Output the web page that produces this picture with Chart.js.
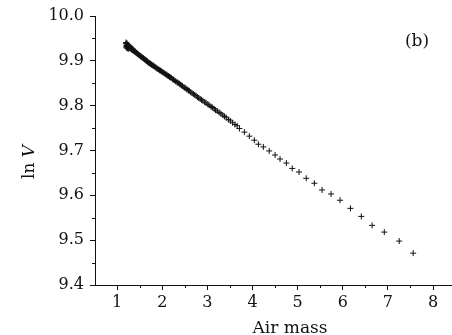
<!DOCTYPE html>
<html>
<head>
<meta charset="utf-8">
<script src="https://cdn.jsdelivr.net/npm/chart.js@4"></script>
<style>
  html, body { margin: 0; padding: 0; background: #fff; }
  canvas { display: block; }
</style>
</head>
<body>
<canvas id="grafico" width="452" height="335"></canvas>
<script>
// datos (b)
const airMass = [1.19,1.20,1.20,1.21,1.21,1.22,1.22,1.23,1.23,1.24,1.25,1.25,1.26,1.27,1.28,1.29,1.30,1.31,1.32,1.33,
  1.34,1.35,1.36,1.37,1.38,1.40,1.41,1.42,1.44,1.45,1.46,1.48,1.50,1.52,1.53,1.55,1.56,1.58,1.59,1.61,
  1.62,1.64,1.65,1.67,1.68,1.70,1.71,1.73,1.74,1.76,1.77,1.79,1.80,1.82,1.84,1.86,1.88,1.90,1.92,1.94,
  1.96,1.98,2.00,2.02,2.04,2.06,2.08,2.10,2.12,2.14,2.16,2.18,2.20,2.23,2.25,2.28,2.30,2.33,2.35,2.38,
  2.40,2.43,2.45,2.48,2.50,2.53,2.55,2.58,2.60,2.63,2.66,2.69,2.72,2.75,2.78,2.81,2.84,2.87,2.90,2.94,
  2.97,3.01,3.04,3.08,3.11,3.15,3.18,3.22,3.26,3.30,3.34,3.38,3.42,3.47,3.51,3.56,3.61,3.66,3.71,3.82,
  3.93,4.04,4.13,4.24,4.37,4.50,4.61,4.75,4.88,5.03,5.19,5.37,5.54,5.74,5.94,6.17,6.41,6.65,6.92,7.25,
  7.56];
const lnV = [9.938,9.931,9.941,9.934,9.929,9.939,9.932,9.936,9.928,9.931,9.935,9.927,9.930,9.933,9.928,9.931,9.927,9.929,9.925,9.927,
  9.924,9.926,9.923,9.923,9.921,9.920,9.920,9.918,9.917,9.916,9.915,9.913,9.912,9.910,9.910,9.908,9.907,9.906,9.905,9.904,
  9.902,9.901,9.900,9.899,9.897,9.896,9.895,9.894,9.893,9.892,9.891,9.890,9.889,9.888,9.886,9.885,9.883,9.882,9.881,9.879,
  9.878,9.877,9.875,9.874,9.873,9.871,9.870,9.869,9.867,9.866,9.864,9.863,9.862,9.859,9.858,9.856,9.854,9.852,9.851,9.849,
  9.847,9.845,9.844,9.841,9.840,9.838,9.836,9.834,9.833,9.830,9.828,9.826,9.824,9.822,9.819,9.817,9.815,9.813,9.811,9.808,
  9.806,9.803,9.801,9.798,9.796,9.793,9.790,9.788,9.785,9.782,9.779,9.776,9.773,9.769,9.766,9.762,9.758,9.755,9.749,9.741,
  9.732,9.723,9.714,9.708,9.699,9.690,9.681,9.672,9.660,9.652,9.638,9.627,9.612,9.603,9.589,9.571,9.553,9.533,9.518,9.498,
  9.471];
const xTicks = [1, 2, 3, 4, 5, 6, 7, 8];
const xMinor = [1.5, 2.5, 3.5, 4.5, 5.5, 6.5, 7.5];
const yMinor = [9.45, 9.55, 9.65, 9.75, 9.85, 9.95];
const tituloX = "Air mass";
const tituloY = ["ln ", "V"];
const etiqueta = "(b)";

const fuente = "'DejaVu Serif', serif";
const negro = "#111";

let puntos = airMass.map(function (x, i) { return { x: x, y: lnV[i] }; });

// marcas menores y textos fijos
const extras = {
  id: 'extras',
  afterDraw(chart) {
    const ctx = chart.ctx;
    const sx = chart.scales.x, sy = chart.scales.y;
    ctx.save();
    ctx.strokeStyle = negro;
    ctx.lineWidth = 1;
    ctx.beginPath();
    xMinor.forEach(function (v) {
      let px = Math.round(sx.getPixelForValue(v)) + 0.5;
      ctx.moveTo(px, sx.top);
      ctx.lineTo(px, sx.top + 3);
    });
    yMinor.forEach(function (v) {
      let py = Math.round(sy.getPixelForValue(v)) + 0.5;
      ctx.moveTo(sy.right, py);
      ctx.lineTo(sy.right - 3, py);
    });
    ctx.stroke();

    ctx.fillStyle = negro;
    ctx.font = "17px " + fuente;
    ctx.textAlign = 'center';
    ctx.textBaseline = 'alphabetic';
    ctx.fillText(tituloX, 290, 333);
    ctx.fillText(etiqueta, 417, 46);

    // titulo Y: "ln" normal y "V" en cursiva
    ctx.translate(34, 162);
    ctx.rotate(-Math.PI / 2);
    ctx.textAlign = 'left';
    let w1 = ctx.measureText(tituloY[0]).width;
    ctx.font = "italic 17px " + fuente;
    let w2 = ctx.measureText(tituloY[1]).width;
    let inicio = -(w1 + w2) / 2;
    ctx.font = "17px " + fuente;
    ctx.fillText(tituloY[0], inicio, 0);
    ctx.font = "italic 17px " + fuente;
    ctx.fillText(tituloY[1], inicio + w1, 0);
    ctx.restore();
  }
};

let ctxGrafico = document.getElementById("grafico");
let grafico = new Chart(ctxGrafico, {
  type: 'scatter',
  data: {
    datasets: [{
      data: puntos,
      pointStyle: 'cross',
      pointRadius: 3,
      borderWidth: 1,
      borderColor: negro,
      backgroundColor: negro,
      showLine: false
    }]
  },
  options: {
    responsive: false,
    animation: false,
    layout: { autoPadding: false, padding: { top: 16, left: 0, right: 0, bottom: 0 } },
    plugins: { legend: { display: false }, tooltip: { enabled: false } },
    scales: {
      x: {
        type: 'linear',
        min: 0.51,
        max: 8.42,
        afterBuildTicks: function (scale) {
          scale.ticks = xTicks.map(function (v) { return { value: v }; });
        },
        afterFit: function (scale) {
          scale.height = 50;
          scale.paddingRight = 0;
          scale.paddingLeft = 0;
        },
        ticks: {
          color: negro,
          font: { family: fuente, size: 16 },
          padding: 3,
          maxRotation: 0,
          callback: function (v) { return String(v); }
        },
        grid: { drawOnChartArea: false, tickLength: 5, tickColor: negro },
        border: { display: true, color: negro, width: 1 }
      },
      y: {
        type: 'linear',
        min: 9.4,
        max: 10.0,
        afterFit: function (scale) {
          scale.width = 95;
          scale.paddingTop = 0;
          scale.paddingBottom = 0;
        },
        ticks: {
          stepSize: 0.1,
          color: negro,
          font: { family: fuente, size: 16 },
          padding: 6,
          callback: function (v) { return v.toFixed(1); }
        },
        grid: { drawOnChartArea: false, tickLength: 5, tickColor: negro },
        border: { display: true, color: negro, width: 1 }
      }
    }
  },
  plugins: [extras]
});
</script>
</body>
</html>
